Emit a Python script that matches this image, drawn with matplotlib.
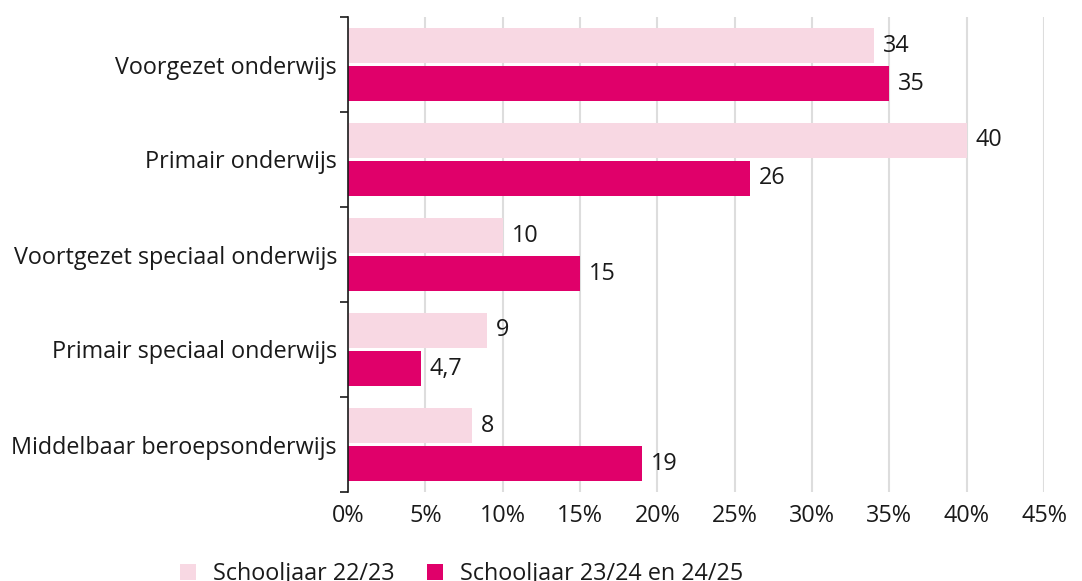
import matplotlib
matplotlib.use("Agg")
import matplotlib.pyplot as plt
import numpy as np
from matplotlib.ticker import FixedLocator, NullFormatter

plt.rcParams['font.family'] = ['Open Sans', 'DejaVu Sans']

categories = ["Voorgezet onderwijs", "Primair onderwijs", "Voortgezet speciaal onderwijs",
              "Primair speciaal onderwijs", "Middelbaar beroepsonderwijs"]
series_names = ["Schooljaar 22/23", "Schooljaar 23/24 en 24/25"]
values_2223 = [34, 40, 10, 9, 8]
values_2325 = [35, 26, 15, 4.7, 19]
xticks = [0, 5, 10, 15, 20, 25, 30, 35, 40, 45]

light = "#f8d8e3"
dark = "#e0006a"
FS = 16.8
TXT = "#1a1a1a"

W, H = 1082, 581
fig = plt.figure(figsize=(W / 100, H / 100), dpi=100)
ax = fig.add_axes([348 / W, 1 - 492 / H, (1044 - 348) / W, (492 - 17) / H])

y = np.arange(len(categories))
bh = 0.37
off = 0.2
b1 = ax.barh(y - off, values_2223, height=bh, color=light, label=series_names[0], zorder=2)
b2 = ax.barh(y + off, values_2325, height=bh, color=dark, label=series_names[1], zorder=2)

def fmt(v):
    s = f"{v:g}"
    return s.replace(".", ",")

for bars, vals in ((b1, values_2223), (b2, values_2325)):
    for rect, v in zip(bars, vals):
        ax.annotate(fmt(v), (rect.get_width(), rect.get_y() + rect.get_height() / 2),
                    xytext=(6.5, 0), textcoords="offset points", va="center", ha="left",
                    fontsize=FS, color=TXT)

ax.set_xlim(0, 45)
ax.set_ylim(len(categories) - 0.5, -0.5)
ax.set_xticks(xticks)
ax.set_xticklabels([f"{t}%" for t in xticks], fontsize=FS, color=TXT)
ax.tick_params(axis="x", length=0, pad=9)

ax.yaxis.set_major_locator(FixedLocator(np.arange(-0.5, len(categories), 1.0)))
ax.yaxis.set_major_formatter(NullFormatter())
ax.yaxis.set_minor_locator(FixedLocator(y))
ax.set_yticklabels(categories, minor=True, fontsize=FS, color=TXT)
ax.tick_params(axis="y", which="major", length=6, width=1.2, color=TXT)
ax.tick_params(axis="y", which="minor", length=0, pad=8)

ax.grid(axis="x", color="#dddddd", linewidth=1.5, zorder=0)
ax.set_axisbelow(True)
for s in ("top", "right", "bottom"):
    ax.spines[s].set_visible(False)
ax.spines["left"].set_color(TXT)
ax.spines["left"].set_linewidth(1.2)
ax.spines["left"].set_zorder(3)

fig.legend(handles=[b1, b2], labels=series_names, loc="center left",
           bbox_to_anchor=(180 / W, 1 - 574 / H), ncol=2, frameon=False,
           borderpad=0, borderaxespad=0,
           fontsize=FS, handlelength=0.68, handleheight=0.68, handletextpad=0.72,
           columnspacing=1.42, labelcolor=TXT)

fig.savefig("out.png", dpi=100, facecolor="white")
